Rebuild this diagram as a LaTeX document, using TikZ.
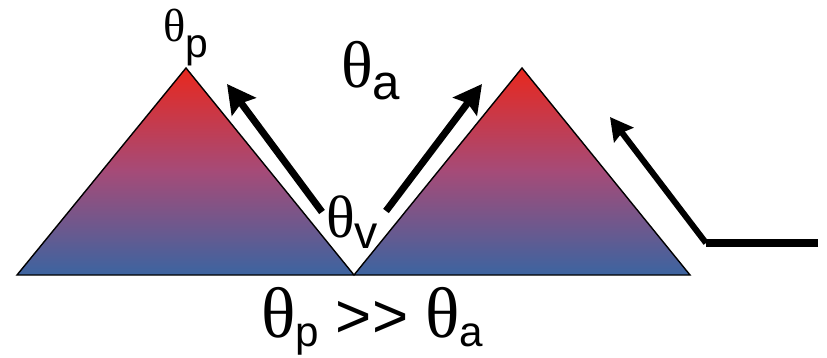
\documentclass[tikz,border=0pt]{standalone}
\usepackage{fontspec}
\setmainfont{Liberation Sans}
\newfontfamily\grk{Liberation Serif}
\usepackage{graphicx}
\usetikzlibrary{arrows.meta}
\definecolor{peakred}{RGB}{232,40,30}
\definecolor{midpink}{RGB}{165,75,120}
\definecolor{baseblue}{RGB}{60,100,160}
% theta with a lowered index: size of theta, size of index, drop, index
\newcommand{\thsub}[4]{{\fontsize{#1}{#1}\selectfont\grk θ}\raisebox{-#3}{\fontsize{#2}{#2}\selectfont #4}}

\begin{document}
\begin{tikzpicture}[x=0.025cm,y=0.025cm,>={Stealth[length=20pt,width=21pt,inset=3pt]},
    lbl/.style={inner sep=0pt,anchor=base west}]
    \useasboundingbox (0,0) rectangle (827,357);
    \coordinate (l1) at (17,82);
    \coordinate (p1) at (186,289);
    \coordinate (v) at (354,82);
    \coordinate (p2) at (522,289);
    \coordinate (r2) at (690,82);

    \shade[top color=peakred,bottom color=baseblue,middle color=midpink] (l1)--(p1)--(v)--cycle;
    \shade[top color=peakred,bottom color=baseblue,middle color=midpink] (v)--(p2)--(r2)--cycle;
    \draw[line width=1pt,line join=miter] (l1)--(p1)--(v)--(p2)--(r2)--cycle;

    \coordinate (t1) at (322,145);
    \coordinate (h1) at (227,273);
    \coordinate (t2) at (386,146);
    \coordinate (h2) at (482,273);
    \coordinate (e3) at (818,114);
    \coordinate (k3) at (706,114);
    \coordinate (h3) at (610,240);

    \draw[->,line width=5pt] (t1)--(h1);
    \draw[->,line width=5pt] (t2)--(h2);
    \draw[line width=5.6pt] (e3)--(k3);
    \draw[-{Stealth[length=16pt,width=17pt,inset=2pt]},line width=4.3pt] (k3)--(h3);

    \node[lbl] (thp) at (163,315) {\thsub{33pt}{29pt}{11pt}{p}};
    \node[lbl] (tha) at (341,270) {\thsub{47pt}{35pt}{9pt}{a}};
    \node[lbl] (thv) at (326,120) {\thsub{42.5pt}{33pt}{8pt}{v}};
    \node[lbl] (rule) at (261,20) {\thsub{51pt}{30pt}{6.4pt}{p}\fontsize{44pt}{44pt}\selectfont\hspace{12pt}>\kern0pt>\hspace{12pt}\thsub{51pt}{30pt}{6.4pt}{a}};
\end{tikzpicture}
\end{document}
